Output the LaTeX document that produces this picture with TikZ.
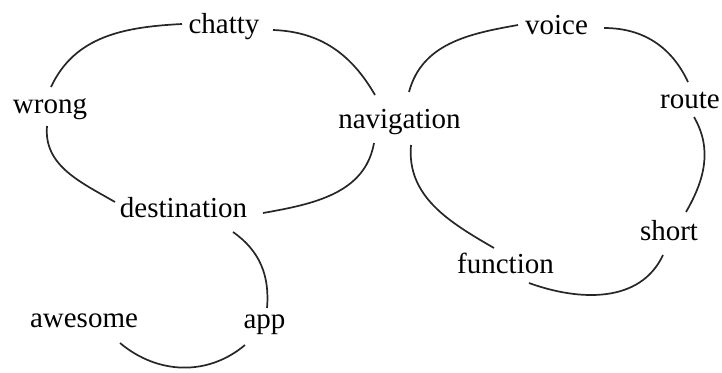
\documentclass[tikz,border=0pt]{standalone}
\usepackage{fontspec}
\setmainfont{Liberation Serif}
\begin{document}
\begin{tikzpicture}[x=1bp,y=1bp,
  word/.style={anchor=base,inner sep=0pt,font=\fontsize{29.1}{35}\selectfont},
  link/.style={line width=1.7bp,draw=black!85}]
\useasboundingbox (0,0) rectangle (722,372);
% words
\node[word] (chatty)      at (224,339)   {chatty};
\node[word] (voice)       at (556.5,338) {voice};
\node[word] (wrong)       at (50,259)    {wrong};
\node[word] (route)       at (690,264)   {route};
\node[word] (navigation)  at (399.5,244) {navigation};
\node[word] (destination) at (183.5,155) {destination};
\node[word] (short)       at (669,132)   {short};
\node[word] (function)    at (505.5,99)  {function};
\node[word] (awesome)     at (84,45)     {awesome};
\node[word] (app)         at (264.5,44)  {app};
% left loop
\draw[link] ([shift={(-42,9)}]chatty.base) to[out=183,in=65] ([shift={(1,26)}]wrong.base);
\draw[link] ([shift={(-3,-13)}]wrong.base) to[out=-95,in=150] ([shift={(-68.5,15)}]destination.base);
\draw[link] ([shift={(49,3)}]chatty.base) to[out=-2,in=120] ([shift={(-24.5,33)}]navigation.base);
\draw[link] ([shift={(-25.5,-15)}]navigation.base) to[out=-100,in=10] ([shift={(79.5,4)}]destination.base);
% right loop
\draw[link] ([shift={(9.5,36)}]navigation.base) to[out=75,in=190] ([shift={(-38.5,9)}]voice.base);
\draw[link] ([shift={(47.5,6)}]voice.base) to[out=0,in=115] ([shift={(-2,26)}]route.base);
\draw[link] ([shift={(4,-9)}]route.base) to[out=-60,in=60] ([shift={(17,28)}]short.base);
\draw[link] ([shift={(-6,-15)}]short.base) to[out=-115,in=-20] ([shift={(23.5,-10)}]function.base);
\draw[link] ([shift={(11.5,-17)}]navigation.base) to[out=-95,in=150] ([shift={(-11.5,25)}]function.base);
% lower chain
\draw[link] ([shift={(49.5,-15)}]destination.base) to[out=-35,in=85] ([shift={(2.5,20)}]app.base);
\draw[link] ([shift={(-19.5,-17)}]app.base) to[out=-140,in=-40] ([shift={(36,-16)}]awesome.base);
\end{tikzpicture}
\end{document}
